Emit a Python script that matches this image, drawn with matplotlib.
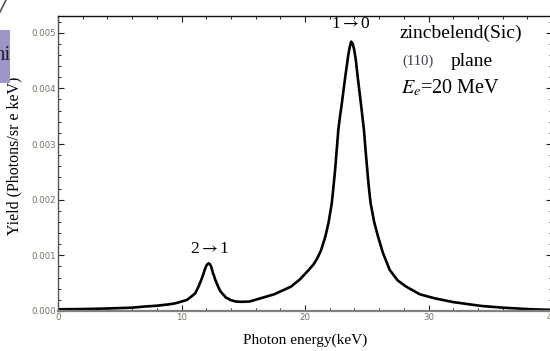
import matplotlib
matplotlib.use("Agg")
import matplotlib.pyplot as plt
from matplotlib.ticker import MultipleLocator
from matplotlib.patches import Rectangle
from matplotlib.lines import Line2D

# Data
energy = [0, 2, 4, 6, 7, 8, 9, 9.5, 10, 10.43, 10.8, 11.11, 11.25, 11.4, 11.6,
          11.75, 11.85, 12.0, 12.1, 12.2, 12.3, 12.4, 12.55, 12.65, 12.74,
          12.87, 13.0, 13.14, 13.28, 13.45, 13.6, 13.8, 13.96, 14.4, 14.8,
          15.5, 16.4, 17.5, 18.86, 19.6, 20.3, 20.7, 21.0, 21.3, 21.65, 21.9,
          22.17, 22.3, 22.44, 22.57, 22.7, 22.85, 23.0, 23.12, 23.25, 23.38,
          23.5, 23.62, 23.74, 23.86, 23.98, 24.11, 24.28, 24.4, 24.53, 24.65,
          24.77, 24.9, 25.04, 25.17, 25.31, 25.6, 25.91, 26.3, 26.86, 27.5,
          28.2, 29.3, 30.5, 32, 34.3, 36, 38.4, 40]
yield_ = [0.00003, 0.000035, 0.000045, 0.00006, 0.00008, 0.000095, 0.00012,
          0.000138, 0.00017, 0.000198, 0.00026, 0.000318, 0.00038, 0.00045,
          0.000558, 0.00065, 0.00072, 0.00081, 0.00084, 0.000857, 0.00084,
          0.0008, 0.00068, 0.00062, 0.000558, 0.00049, 0.00042, 0.00036,
          0.000318, 0.00028, 0.00024, 0.00022, 0.000198, 0.00017, 0.000165,
          0.00017, 0.000228, 0.0003, 0.000437, 0.00057, 0.000737, 0.00084,
          0.00095, 0.00109, 0.00134, 0.00158, 0.00194, 0.00222, 0.00254,
          0.0029, 0.00326, 0.00352, 0.00376, 0.00397, 0.00419, 0.0044,
          0.00459, 0.00474, 0.00484, 0.0048, 0.0047, 0.00452, 0.00418,
          0.00396, 0.00372, 0.00349, 0.00326, 0.0029, 0.00254, 0.00222,
          0.00194, 0.0016, 0.00134, 0.00105, 0.000737, 0.00055, 0.000437,
          0.0003, 0.000228, 0.00016, 0.00009, 0.00006, 0.00003, 0.00002]
xticks = [0, 10, 20, 30, 40]
yticks = [0.0, 0.001, 0.002, 0.003, 0.004, 0.005]
ytick_labels = ["0.000", "0.001", "0.002", "0.003", "0.004", "0.005"]
peak_labels = ["1$\\rightarrow$0", "2$\\rightarrow$1"]
peak_pos = [(23.7, 0.00515), (12.25, 0.00111)]

W, H = 550, 351
fig = plt.figure(figsize=(5.5, 3.51), dpi=100)
ax = fig.add_axes([58 / W, 40 / H, 494 / W, 295 / H])

ax.plot(energy, yield_, color="black", lw=1.9, solid_capstyle="round",
        solid_joinstyle="round")
ax.set_xlim(0, 40)
ax.set_ylim(0, 0.0053)

ax.set_xticks(xticks)
ax.set_xticklabels([str(t) for t in xticks])
ax.set_yticks(yticks)
ax.set_yticklabels(ytick_labels)
ax.xaxis.set_minor_locator(MultipleLocator(2))
ax.yaxis.set_minor_locator(MultipleLocator(0.0002))
tickcol = "#75705f"
ax.tick_params(which="both", direction="in", top=True, right=True,
               labelsize=6.2, labelcolor=tickcol, color="#222222", pad=1.5)
ax.tick_params(which="major", length=4, width=0.8)
ax.tick_params(which="minor", length=2.2, width=0.7)

ax.spines["left"].set_color("#555555")
ax.spines["left"].set_linewidth(1.0)
ax.spines["bottom"].set_color("#808080")
ax.spines["bottom"].set_linewidth(1.6)
ax.spines["top"].set_color("#111111")
ax.spines["top"].set_linewidth(1.0)

serif = ["Liberation Serif", "DejaVu Serif"]
ax.set_xlabel("Photon energy(keV)", family=serif, fontsize=11, labelpad=8)
ax.set_ylabel("Yield (Photons/sr e keV)", family=serif, fontsize=11.5)
ax.yaxis.set_label_coords(-0.072, 0.525)

for lab, (px, py) in zip(peak_labels, peak_pos):
    ax.text(px, py, lab, family=serif, fontsize=12.5, ha="center", va="center",
            math_fontfamily="stix")

fig.text(400 / W, 1 - 33 / H, "zincbelend(Sic)", family=serif, fontsize=14,
         ha="left", va="center")
fig.text(402 / W, 1 - 61 / H, "(110)", family=serif, fontsize=10.5,
         color="#33405a", ha="left", va="center")
fig.text(451 / W, 1 - 61 / H, "plane", family=serif, fontsize=14,
         ha="left", va="center")
fig.text(401 / W, 1 - 88 / H, r"$E_e$=20 MeV", family=serif, fontsize=14.5,
         ha="left", va="center", math_fontfamily="stix")

# screenshot artefacts at the left edge
fig.patches.append(Rectangle((0, 1 - 83 / H), 10 / W, 53 / H,
                             transform=fig.transFigure, facecolor="#9d97c9",
                             edgecolor="none"))
fig.text(11 / W, 1 - 56 / H, "ni", family=serif, fontsize=15, ha="right",
         va="center", color="#222222")
fig.lines.append(Line2D([0, 6 / W], [1 - 12 / H, 1.0], transform=fig.transFigure,
                        color="#555555", lw=1.2))

fig.savefig("out.png", dpi=100)
